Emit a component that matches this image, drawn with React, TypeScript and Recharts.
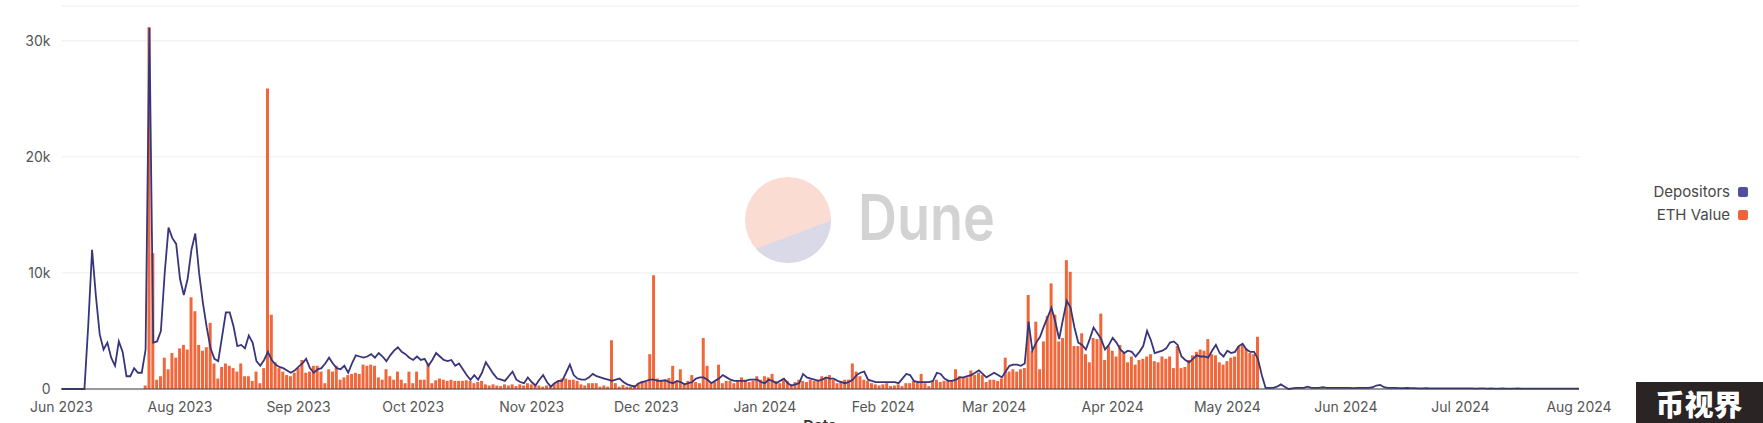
import { ComposedChart, Bar, Line, XAxis, YAxis, CartesianGrid } from 'recharts'

const W = 1763
const H = 423
const ETH_COLOR = '#f2673a'
const DEP_COLOR = '#38367a'

// x axis: day index from the left edge of the plot (the "Jun 2023" tick)
const monthTickDays = [0, 31, 62, 92, 123, 153, 184, 215, 244, 275, 305, 336, 366, 397]
const monthTickLabels = [
  'Jun 2023', 'Aug 2023', 'Sep 2023', 'Oct 2023', 'Nov 2023', 'Dec 2023', 'Jan 2024',
  'Feb 2024', 'Mar 2024', 'Apr 2024', 'May 2024', 'Jun 2024', 'Jul 2024', 'Aug 2024',
]
const yTicks = [0, 10000, 20000, 30000]

// daily depositors, in thousands (day 0 .. 397)
const depositors = [
  0, 0, 0, 0, 0, 0, 0, 5.5, 12.0, 8.0,
  4.7, 3.4, 4.0, 2.7, 2.0, 4.1, 3.2, 1.1, 1.1, 1.8,
  1.4, 1.4, 3.4, 31.1, 4.0, 4.1, 5.0, 10.0, 13.9, 13.0,
  12.5, 9.5, 8.1, 9.5, 12.0, 13.4, 10.0, 7.4, 5.3, 3.5,
  2.6, 2.4, 4.5, 6.6, 6.6, 5.4, 3.7, 3.8, 3.5, 4.6,
  4.0, 2.4, 2.0, 2.5, 3.2, 2.5, 2.1, 1.9, 1.8, 1.6,
  1.4, 1.6, 1.9, 2.2, 2.6, 1.8, 1.4, 1.7, 1.8, 2.2,
  2.7, 2.2, 1.8, 1.7, 2.0, 1.4, 2.2, 2.9, 2.8, 2.7,
  2.8, 3.0, 2.7, 3.1, 2.8, 2.4, 2.9, 3.3, 3.6, 3.2,
  3.0, 2.7, 2.5, 2.8, 2.5, 2.6, 2.0, 2.5, 3.1, 2.8,
  2.5, 2.4, 2.5, 2.0, 2.2, 1.7, 1.2, 0.8, 1.2, 0.8,
  1.4, 2.3, 1.8, 1.3, 0.9, 0.8, 0.7, 1.1, 1.5, 0.8,
  0.6, 0.5, 1.0, 0.6, 0.3, 0.8, 1.2, 0.6, 0.2, 0.5,
  0.7, 0.7, 1.4, 2.1, 1.2, 0.9, 0.8, 0.8, 1.0, 1.3,
  1.1, 1.0, 0.9, 0.8, 0.7, 0.8, 0.9, 0.6, 0.4, 0.3,
  0.2, 0.5, 0.6, 0.7, 0.8, 0.8, 0.7, 0.7, 0.75, 0.6,
  0.5, 0.7, 0.6, 0.4, 0.5, 0.6, 0.9, 1.0, 1.0, 0.8,
  0.5, 0.7, 0.9, 1.2, 1.0, 0.8, 0.7, 0.7, 0.7, 0.7,
  0.8, 0.8, 0.8, 0.6, 0.5, 0.8, 0.7, 0.5, 0.7, 0.9,
  0.5, 0.3, 0.4, 0.5, 1.3, 1.0, 0.9, 0.8, 0.7, 0.8,
  1.0, 0.9, 0.9, 0.7, 0.6, 0.5, 0.6, 0.8, 1.2, 1.4,
  1.5, 0.8, 0.7, 0.6, 0.6, 0.6, 0.6, 0.6, 0.6, 0.5,
  0.9, 1.3, 1.2, 0.7, 0.6, 0.6, 0.6, 0.6, 0.7, 1.4,
  1.3, 0.9, 0.7, 0.7, 0.8, 1.0, 1.0, 1.1, 1.2, 1.4,
  1.6, 1.3, 1.0, 1.2, 1.4, 1.2, 1.0, 1.5, 2.0, 2.1,
  2.1, 2.0, 2.2, 5.8, 3.3, 4.0, 4.5, 5.4, 6.2, 7.0,
  5.8, 4.3, 6.0, 7.6, 7.0, 5.3, 4.0, 3.8, 3.4, 4.3,
  5.3, 4.8, 4.3, 3.4, 3.8, 4.4, 4.0, 3.4, 3.1, 3.3,
  3.2, 2.8, 3.2, 3.7, 5.0, 4.2, 3.1, 3.2, 3.3, 3.5,
  4.0, 4.1, 3.8, 2.8, 2.5, 2.3, 2.6, 2.9, 2.8, 2.8,
  2.7, 3.3, 3.8, 3.1, 2.8, 3.3, 3.1, 3.2, 3.7, 3.9,
  3.4, 3.2, 3.2, 2.6, 1.2, 0.1, 0.1, 0.1, 0.2, 0.4,
  0.2, 0.0, 0.05, 0.1, 0.1, 0.1, 0.2, 0.1, 0.1, 0.1,
  0.15, 0.1, 0.1, 0.1, 0.1, 0.1, 0.1, 0.1, 0.08, 0.1,
  0.1, 0.1, 0.1, 0.15, 0.3, 0.35, 0.15, 0.1, 0.1, 0.1,
  0.08, 0.08, 0.1, 0.08, 0.08, 0.06, 0.06, 0.08, 0.06, 0.05,
  0.06, 0.05, 0.05, 0.06, 0.05, 0.05, 0.06, 0.05, 0.05, 0.05,
  0.04, 0.05, 0.05, 0.04, 0.05, 0.04, 0.04, 0.05, 0.04, 0.04,
  0.04, 0.05, 0.04, 0.04, 0.04, 0.04, 0.03, 0.04, 0.04, 0.03,
  0.03, 0.04, 0.03, 0.03, 0.03, 0.03, 0.03, 0.03,
]

// daily ETH deposited, in thousands (day 0 .. 313, nothing after)
const ethValue = [
  0, 0, 0, 0, 0, 0, 0, 0, 0, 0,
  0, 0, 0, 0, 0, 0, 0, 0, 0, 0,
  0, 0, 0.3, 31.2, 11.7, 0.8, 1.1, 2.7, 1.7, 3.1,
  2.7, 3.5, 3.8, 3.4, 7.9, 6.7, 3.8, 3.3, 3.6, 5.7,
  2.2, 0.9, 1.9, 2.2, 2.0, 1.8, 1.5, 2.2, 1.1, 1.1,
  0.7, 1.5, 0.5, 1.8, 25.9, 6.4, 2.3, 1.8, 1.5, 1.2,
  1.1, 1.4, 1.8, 2.5, 1.4, 1.5, 2.0, 2.0, 1.5, 0.5,
  1.7, 1.5, 2.0, 0.8, 1.0, 1.2, 1.3, 1.4, 1.3, 2.1,
  2.0, 2.1, 2.0, 1.0, 0.8, 1.7, 1.1, 0.8, 1.5, 0.8,
  0.5, 1.5, 0.5, 1.5, 0.8, 0.8, 2.2, 0.5, 0.75, 0.9,
  0.8, 0.7, 0.8, 0.7, 0.7, 0.7, 0.75, 0.7, 0.5, 0.6,
  0.7, 0.4, 0.3, 0.4, 0.3, 0.25, 0.4, 0.3, 0.4, 0.25,
  0.4, 0.3, 0.5, 0.4, 0.3, 0.3, 0.2, 0.3, 0.2, 0.5,
  0.7, 0.9, 0.9, 0.8, 0.8, 0.7, 0.4, 0.3, 0.5, 0.5,
  0.5, 0.2, 0.3, 0.2, 4.2, 0.5, 0.2, 0.35, 0.2, 0.2,
  0.35, 0.5, 0.7, 0.6, 3.0, 9.8, 0.9, 0.8, 0.8, 0.95,
  2.0, 0.6, 1.7, 0.5, 0.7, 1.2, 0.6, 0.5, 4.4, 2.0,
  0.5, 0.6, 2.1, 0.5, 0.7, 0.7, 0.5, 0.7, 1.0, 0.8,
  0.6, 0.7, 1.1, 0.8, 1.1, 1.0, 1.3, 0.7, 0.5, 0.8,
  0.7, 0.4, 0.6, 0.8, 0.7, 0.6, 0.8, 0.7, 0.8, 1.1,
  1.0, 1.2, 0.8, 0.5, 0.7, 0.8, 0.8, 2.2, 1.5, 1.1,
  0.8, 0.7, 0.5, 0.4, 0.3, 0.4, 0.5, 0.25, 0.3, 0.4,
  0.25, 0.5, 0.5, 0.7, 0.7, 1.3, 0.5, 0.25, 0.7, 0.8,
  0.6, 0.7, 0.8, 0.7, 1.7, 1.1, 1.0, 1.0, 1.6, 1.2,
  1.4, 1.2, 0.6, 0.8, 0.8, 0.7, 0.9, 2.7, 1.5, 1.7,
  1.5, 1.7, 1.8, 8.1, 3.3, 5.8, 1.7, 4.1, 6.3, 9.1,
  6.4, 4.1, 4.4, 11.1, 10.1, 3.7, 3.7, 4.8, 3.0, 2.3,
  4.4, 4.3, 6.5, 2.5, 3.7, 3.3, 2.8, 3.8, 3.1, 2.3,
  2.8, 2.1, 2.5, 2.6, 2.8, 3.0, 2.4, 2.3, 2.8, 2.6,
  2.8, 1.8, 3.7, 1.8, 1.9, 2.5, 2.9, 3.2, 3.4, 3.3,
  4.3, 3.0, 2.9, 2.3, 2.1, 2.4, 2.7, 2.8, 3.7, 3.8,
  3.5, 3.1, 3.0, 4.5,
]

const chartData = depositors.map((d, i) => ({
  day: i,
  depositors: d * 1000,
  eth: i < ethValue.length ? ethValue[i] * 1000 : null,
}))

const formatY = (v: number) => (v === 0 ? '0' : `${v / 1000}k`)
const formatX = (v: number) => monthTickLabels[monthTickDays.indexOf(v)] ?? ''

function Legend() {
  const items = [
    { name: 'Depositors', color: '#524f9e' },
    { name: 'ETH Value', color: '#f0623a' },
  ]
  return (
    <div style={{ position: 'absolute', left: 1580, top: 180, width: 168 }}>
      {items.map((it) => (
        <div
          key={it.name}
          style={{
            display: 'flex',
            justifyContent: 'flex-end',
            alignItems: 'center',
            height: 23,
            fontSize: 15,
            color: '#474747',
          }}
        >
          <span>{it.name}</span>
          <span
            style={{
              display: 'inline-block',
              width: 10,
              height: 10,
              borderRadius: 2,
              background: it.color,
              marginLeft: 8,
            }}
          />
        </div>
      ))}
    </div>
  )
}

function Backdrop() {
  return (
    <svg width={W} height={H} style={{ position: 'absolute', left: 0, top: 0 }}>
      <defs>
        <clipPath id="duneCircle">
          <circle cx={788} cy={220} r={43} />
        </clipPath>
      </defs>
      <g clipPath="url(#duneCircle)">
        <rect x={740} y={170} width={100} height={100} fill="#fbdcd3" />
        <polygon points="745,253 835,219 840,270 740,270" fill="#d9d9e7" />
      </g>
      <text
        x={858}
        y={240}
        fontSize={63}
        fontWeight={600}
        fill="#d3d3d3"
        textLength={137}
        lengthAdjust="spacingAndGlyphs"
      >
        Dune
      </text>
      {/* axis title, cut by the bottom edge as in the source */}
      <text x={820} y={431} fontSize={15} fontWeight={600} fill="#333" textAnchor="middle">
        Date
      </text>
    </svg>
  )
}

function Badge() {
  return (
    <svg width={W} height={H} style={{ position: 'absolute', left: 0, top: 0, pointerEvents: 'none' }}>
      <rect x={1636} y={382} width={127} height={41} fill="#2a2424" />
      <text
        x={1699}
        y={403}
        fontSize={29}
        fontWeight={900}
        fill="#ffffff"
        textAnchor="middle"
        dominantBaseline="central"
        fontFamily='"Noto Sans CJK SC", sans-serif'
      >
        币视界
      </text>
    </svg>
  )
}

export default function App() {
  return (
    <div
      style={{
        position: 'absolute',
        left: 0,
        top: 0,
        width: W,
        height: H,
        background: '#fff',
        overflow: 'hidden',
        fontFamily: 'Inter, "Noto Sans", sans-serif',
      }}
    >
      <Backdrop />
      <div style={{ position: 'absolute', left: 0, top: 0 }}>
        <ComposedChart
          width={W}
          height={H}
          data={chartData}
          margin={{ top: 6, right: 184, bottom: 0, left: 6.5 }}
        >
          <CartesianGrid vertical={false} stroke="#ededed" />
          <XAxis
            dataKey="day"
            type="number"
            domain={[0, 397]}
            ticks={monthTickDays}
            interval={0}
            tickFormatter={formatX}
            tick={{ fontSize: 14, fill: '#555' }}
            tickLine={false}
            tickMargin={7}
            axisLine={{ stroke: '#3a3a44' }}
            height={34}
          />
          <YAxis
            domain={[0, 33000]}
            ticks={yTicks}
            tickFormatter={formatY}
            tick={{ fontSize: 14, fill: '#555' }}
            tickLine={false}
            axisLine={false}
            tickMargin={5}
            width={55}
          />
          <Bar dataKey="eth" fill={ETH_COLOR} barSize={3} isAnimationActive={false} />
          <Line
            type="linear"
            dataKey="depositors"
            stroke={DEP_COLOR}
            strokeWidth={1.8}
            dot={false}
            isAnimationActive={false}
          />
        </ComposedChart>
      </div>
      <Legend />
      <Badge />
    </div>
  )
}
